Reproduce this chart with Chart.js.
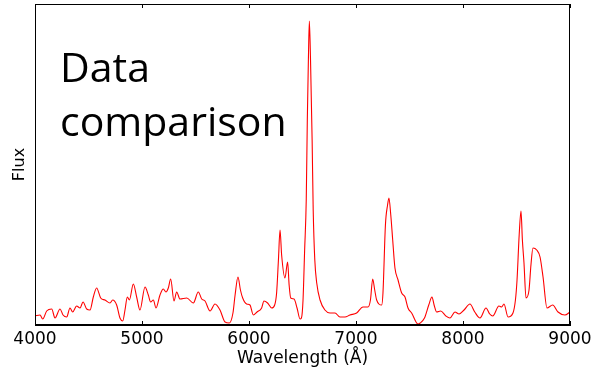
<!DOCTYPE html>
<html>
<head>
<meta charset="utf-8">
<script src="https://cdn.jsdelivr.net/npm/chart.js@4/dist/chart.umd.min.js"></script>
<style>
  html, body { margin: 0; padding: 0; background: #fff; }
  #wrap { width: 603px; height: 376px; }
</style>
</head>
<body>
<div id="wrap"><canvas id="chart"></canvas></div>
<script>
// spectrum (flux in arbitrary units)
const wavelength = [
  4000, 4047, 4072, 4109, 4156, 4187, 4234, 4262, 4296, 4327, 4352, 4389, 4421, 4449, 4483, 4514,
  4545, 4576, 4614, 4654, 4701, 4726, 4763, 4794, 4820, 4841, 4863, 4882, 4919, 4950, 4981, 5028,
  5059, 5081, 5106, 5131, 5168, 5199, 5224, 5246, 5268, 5299, 5324, 5355, 5418, 5480, 5526, 5558,
  5589, 5636, 5682, 5729, 5776, 5816, 5850, 5870, 5897, 5920, 5941, 5978, 6009, 6040, 6075, 6118,
  6140, 6174, 6212, 6240, 6258, 6275, 6290, 6305, 6336, 6361, 6375, 6390, 6421, 6449, 6477, 6490,
  6505, 6520, 6535, 6545, 6555, 6564, 6575, 6590, 6600, 6615, 6633, 6664, 6710, 6757, 6804, 6850,
  6897, 6944, 7006, 7065, 7112, 7135, 7156, 7175, 7193, 7240, 7252, 7275, 7295, 7308, 7325, 7343,
  7364, 7393, 7427, 7458, 7486, 7520, 7579, 7600, 7640, 7680, 7710, 7730, 7754, 7791, 7840, 7878,
  7925, 7963, 8010, 8065, 8110, 8159, 8215, 8250, 8278, 8336, 8361, 8383, 8421, 8467, 8490, 8505,
  8525, 8542, 8555, 8570, 8589, 8617, 8635, 8654, 8689, 8720, 8748, 8785, 8838, 8888, 8953, 9000
];
const flux = [
  9, 10, 6, 14, 16, 7, 16, 10, 8, 17, 13, 19, 17, 23, 16, 15,
  28, 37, 27, 25, 22, 25, 20, 7, 4, 15, 28, 25, 41, 28, 15, 38,
  30, 23, 25, 17, 30, 36, 33, 37, 46, 24, 33, 26, 27, 22, 33, 26,
  24, 14, 21, 15, 3, 2, 12, 30, 48, 35, 27, 21, 20, 10, 13, 17,
  24, 22, 17, 20, 32, 65, 95, 70, 47, 63, 40, 27, 26, 17, 6, 7,
  25, 75, 125, 205, 265, 304, 265, 185, 115, 65, 42, 25, 15, 12, 12, 8,
  8, 10, 12, 18, 18, 25, 46, 35, 25, 20, 32, 100, 120, 127, 110, 85,
  57, 45, 32, 28, 17, 12, 1, 2, 7, 20, 28, 20, 13, 14, 9, 7,
  13, 11, 15, 21, 13, 7, 17, 11, 9, 19, 18, 21, 8, 12, 25, 45,
  90, 114, 85, 62, 27, 35, 60, 77, 75, 68, 48, 17, 20, 13, 10, 13
];
const xTicks = [4000, 5000, 6000, 7000, 8000, 9000];
const points = wavelength.map((w, i) => ({ x: w, y: flux[i] }));

const frame = {
  id: 'frame',
  afterDraw(chart) {
    const { ctx, chartArea: a } = chart;
    const xs = chart.scales.x;
    ctx.save();
    ctx.strokeStyle = '#000';
    ctx.lineWidth = 1;
    ctx.strokeRect(Math.round(a.left) + 0.5, Math.round(a.top) + 0.5,
      Math.round(a.right - a.left) - 1, Math.round(a.bottom - a.top) - 1);
    ctx.beginPath();
    for (const t of xTicks) {
      const px = Math.round(xs.getPixelForValue(t)) + 0.5;
      ctx.moveTo(px, a.bottom); ctx.lineTo(px, a.bottom - 4);
      ctx.moveTo(px, a.top); ctx.lineTo(px, a.top + 4);
    }
    ctx.stroke();
    ctx.fillStyle = '#000';
    ctx.font = '41px "Open Sans"';
    ctx.textBaseline = 'alphabetic';
    ctx.fillText('Data', 60, 82);
    ctx.fillText('comparison', 60, 136);
    ctx.restore();
  }
};

new Chart('chart', {
  type: 'line',
  data: {
    datasets: [{
      data: points,
      borderColor: '#ff0000',
      borderWidth: 1.1,
      pointRadius: 0,
      cubicInterpolationMode: 'monotone',
      fill: false
    }]
  },
  options: {
    responsive: true,
    maintainAspectRatio: false,
    animation: false,
    layout: { padding: { top: 4, right: 33, left: 0, bottom: 0 } },
    plugins: { legend: { display: false }, tooltip: { enabled: false } },
    scales: {
      x: {
        type: 'linear',
        min: 4000,
        max: 9000,
        afterFit(s) { s.height = 51 },
        afterBuildTicks(s) { s.ticks = xTicks.map(v => ({ value: v })) },
        ticks: { color: '#000', padding: 4, maxRotation: 0, callback: v => String(v),
                 font: { family: 'DejaVu Sans', size: 17 } },
        grid: { display: true, drawOnChartArea: false, drawTicks: false },
        border: { color: '#000', width: 1 },
        title: { display: true, text: 'Wavelength (Å)', color: '#000',
                 font: { family: 'DejaVu Sans', size: 17 }, padding: { top: 0, bottom: 7 } }
      },
      y: {
        min: 0,
        max: 321,
        afterFit(s) { s.width = 35 },
        ticks: { display: false },
        grid: { display: true, drawOnChartArea: false, drawTicks: false },
        border: { color: '#000', width: 1 },
        title: { display: true, text: 'Flux', color: '#000',
                 font: { family: 'DejaVu Sans', size: 16 }, padding: { top: 10, bottom: 0 } }
      }
    }
  },
  plugins: [frame]
});
</script>
</body>
</html>
